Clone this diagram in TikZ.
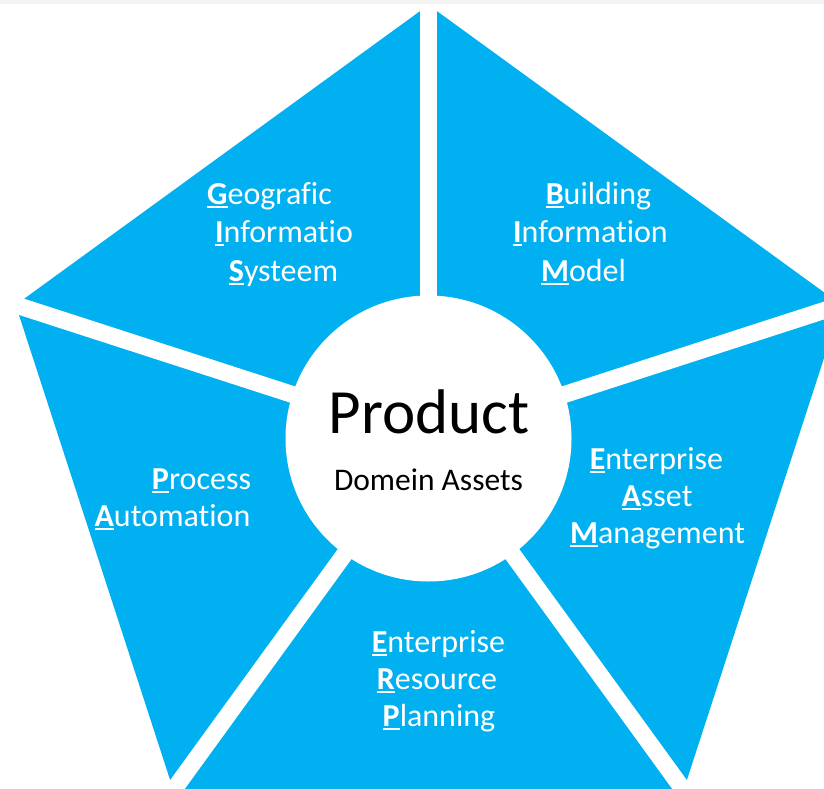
\documentclass[tikz,border=0pt]{standalone}
\usepackage{fontspec}
\usetikzlibrary{calc}
\setmainfont{Carlito}[Ligatures={NoCommon}]
\definecolor{segblue}{RGB}{0,176,240}
\definecolor{topgrey}{RGB}{243,243,243}
\newcommand\fu[1]{\setbox0\hbox{\bfseries #1}\rlap{\rule[-4pt]{\wd0}{2.2pt}}\box0}
\begin{document}
\begin{tikzpicture}[x=1pt,y=-1pt,
  lbl/.style={text=white, font=\fontsize{32}{38}\selectfont, anchor=base, inner sep=0pt},
  gapline/.style={white, line width=17pt},
  hub/.style={circle, fill=white, minimum size=286pt, inner sep=0pt}]
\useasboundingbox (0,0) rectangle (824,789);
\clip (0,0) rectangle (824,789);
\fill[white] (0,0) rectangle (824,789);
\coordinate (C) at (428.5,438.5);
\coordinate (V1) at (428.5,5);
\coordinate (V2) at (841.3,304.9);
\coordinate (V3) at (683.6,790.1);
\coordinate (V4) at (173.4,790.1);
\coordinate (V5) at (15.7,304.9);
\fill[segblue] (V1) -- (V2) -- (V3) -- (V4) -- (V5) -- cycle;
\foreach \v in {V1,V2,V3,V4,V5}{
  \draw[gapline] (C) -- ($(C)!1.2!(\v)$);
}
\node[hub] (hubc) at (C) {};
\fill[topgrey] (0,0) rectangle (824,4);
% GIS
\node[lbl] (g1) at (269.5,204) {\fu{G}eografic};
\node[lbl] (g2) at (284,242) {\fu{I}nformatio};
\node[lbl] (g3) at (283.5,281) {\fu{S}ysteem};
% BIM
\node[lbl] (b1) at (598.5,204) {\fu{B}uilding};
\node[lbl] (b2) at (590.5,242) {\fu{I}nformation};
\node[lbl] (b3) at (583.5,281) {\fu{M}odel};
% EAM
\node[lbl] (e1) at (656.5,469) {\fu{E}nterprise};
\node[lbl] (e2) at (657,506) {\fu{A}sset};
\node[lbl] (e3) at (657.5,543) {\fu{M}anagement};
% ERP
\node[lbl] (r1) at (438.5,652) {\fu{E}nterprise};
\node[lbl] (r2) at (437,689) {\fu{R}esource};
\node[lbl] (r3) at (439,726) {\fu{P}lanning};
% PA
\node[lbl] (p1) at (201.5,489) {\fu{P}rocess};
\node[lbl] (p2) at (172.5,526) {\fu{A}utomation};
% centre
\node[anchor=base, inner sep=0pt, font=\fontsize{63}{70}\selectfont] (prod) at (429,433) {Product};
\node[anchor=base, inner sep=0pt, font=\fontsize{31.5}{37}\selectfont] (dom) at (428.5,490) {Domein Assets};
\end{tikzpicture}
\end{document}
